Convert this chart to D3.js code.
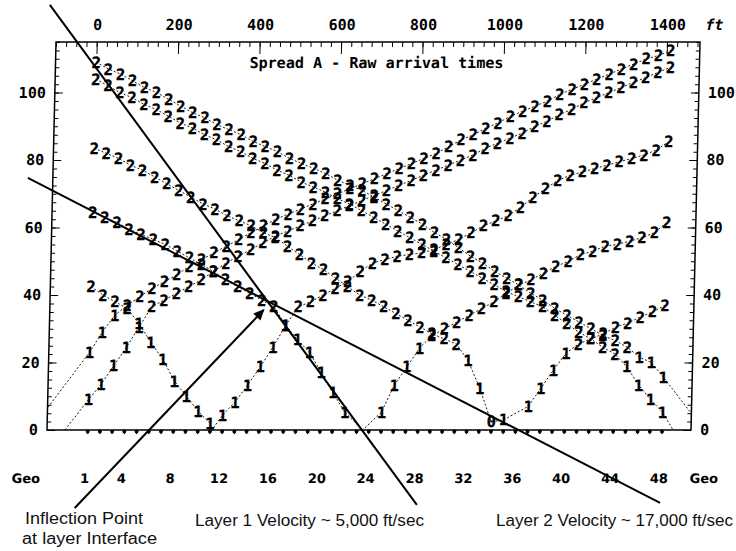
<!DOCTYPE html>
<html>
<head>
<meta charset="utf-8">
<script src="https://cdn.jsdelivr.net/npm/d3@7"></script>
<style>
  body { margin: 0; background: #fff; }
  svg { display: block; }
</style>
</head>
<body>
<div id="chart"></div>
<script>
// Spread A - raw first-arrival picks (ms) at each of 48 geophones, 30 ft apart
const geophones = d3.range(1, 49);
const geoSpacingFt = 30;
const geoLabels = [1, 4, 8, 12, 16, 20, 24, 28, 32, 36, 40, 44, 48];
const ftTicks = [0, 200, 400, 600, 800, 1000, 1200, 1400];
const timeTicks = [0, 20, 40, 60, 80, 100];

// shot points (ft); null = the shot is the "0" pick itself
const shotIds = ["A", "B", "C", "G", "D", "E", "F"];
const shotSourceFt = [-140, -56, 305, 675, null, 1437, 1513];

const picksA = [23, 29, 34, 37, 39.5, 42, 44, 46, 48.5, 50.5, 52.5, 54.5, 56.5, 58.5, 60.5, 62.5,
  64, 65.5, 67, 68.5, 70, 71.5, 73, 74.5, 76, 77.5, 79, 80.5, 82, 84, 86, 87.5,
  89.5, 91, 93, 94.5, 96, 97.5, 99.5, 101, 102.5, 104, 105.5, 107, 108.5, 110, 111, 112.5];
const picksB = [9, 13.5, 19, 24.5, 30.5, 36.5, 38.5, 40.5, 42.5, 44.5, 47, 49.5, 51.5, 53.5, 55.5, 57.5,
  59, 60.5, 62, 63.5, 65, 66.5, 68, 69.5, 71, 72.5, 74, 75.5, 77, 78.5, 80, 81.5,
  83.5, 85, 86.5, 88, 90, 91.5, 93.5, 95, 97, 98.5, 100, 101.5, 103, 104.5, 106, 107.5];
const picksC = [42.5, 40, 38, 36, 31.5, 26, 21, 14.5, 10, 5.5, 2, 4.4, 8.3, 13.3, 18.7, 24.6,
  31, 36.5, 38, 40, 42, 44, 47, 49.5, 50.5, 51.5, 52, 52.5, 53.5, 55, 56.5, 58.5,
  60.5, 62, 63.5, 66, 69, 71.5, 74, 75.5, 76.5, 77.5, 78.5, 79.5, 80.5, 81.5, 83, 85.5];
const picksG = [64.5, 63, 61.5, 59.5, 58, 56.5, 55, 53, 51, 49, 47, 44.5, 42.5, 40.5, 38.5, 36.5,
  31, 26.7, 23, 17, 11, 5.3, null, null, 5.3, 13.3, 18.7, 24.3, 28, 30, 32, 34,
  36, 38, 40.5, 43, 44.5, 46.5, 48.5, 50, 52, 53, 54.5, 55, 56, 57, 58.5, 61.5];
const picksD = [83.5, 82, 80.5, 78.5, 77, 75, 73, 71, 69, 67, 65.5, 63.5, 62, 60.5, 58.5, 57,
  54.5, 52, 49.5, 47.5, 45, 42.5, 40, 38.5, 36.5, 34.5, 32.5, 30.5, 28.5, 27, 25.5, 20.5,
  12.4, 2.4, 3, null, 7, 12.4, 17.8, 22.8, 25.5, 27, 28.5, 30.5, 31.7, 33.5, 35, 37];
const picksE = [104, 102, 100, 98.5, 96.5, 95, 93, 91, 89.5, 87.5, 86, 84, 82.5, 80.5, 79, 77,
  75.5, 73.5, 72, 70.5, 68.5, 67, 65, 63, 61, 59, 57, 55, 53, 51, 49, 47,
  45, 43, 41, 39.5, 38, 36.5, 34, 31.5, 29, 27, 24.5, 22.5, 18.7, 13.3, 9, 5.3];
const picksF = [109, 107, 105.5, 103.5, 101.5, 100, 98, 96, 94, 92.5, 90.5, 89, 87.5, 85.5, 84, 82.5,
  80.5, 79, 77.5, 76, 74, 72.5, 71, 69, 67, 65, 63, 61, 58.5, 56.5, 54, 51.5,
  49.5, 47, 45, 43, 40.5, 38.5, 36, 34, 32, 30, 28, 26.5, 24.5, 21.6, 20, 15.7];

// pick symbol per geophone: 1 = layer 1 (direct), 2 = layer 2 (refracted), 0 = at shot
const layersA = "111222222222" + "222222222222" + "222222222222" + "222222222222";
const layersB = "111112222222" + "222222222222" + "222222222222" + "222222222222";
const layersC = "222211111111" + "111112222222" + "222222222222" + "222222222222";
const layersG = "222222222222" + "2222111111  " + "111122222222" + "222222222222";
const layersD = "222222222222" + "222222222222" + "22222221101 " + "111122222222";
const layersE = "222222222222" + "222222222222" + "222222222222" + "222222221111";
const layersF = "222222222222" + "222222222222" + "222222222222" + "222222222111";

// annotation lines, in (ft, ms)
const layer1Line = [[-93, 126], [808, -22.2]];
const layer2Line = [[-147, 74.7], [1405, -21.6]];
const inflectionArrow = [[-32, -23.1], [432, 35.6]];

const W = 736, H = 551;
const plotLeft = 47, plotRight = 691, plotTop = 42, plotBottom = 430;

const x = d3.scaleLinear().domain([-100, 1481]).range([plotLeft, plotRight]);
const y = d3.scaleLinear().domain([0, 115]).range([plotBottom, plotTop]);

const allPicks = [picksA, picksB, picksC, picksG, picksD, picksE, picksF];
const allLayers = [layersA, layersB, layersC, layersG, layersD, layersE, layersF];

const shots = shotIds.map((id, i) => {
  const pts = geophones
    .map((g, j) => ({ ft: (g - 1) * geoSpacingFt, t: allPicks[i][j], lab: allLayers[i][j] }))
    .filter(d => d.t != null);
  if (shotSourceFt[i] != null) pts.push({ ft: shotSourceFt[i], t: 0, lab: null });
  pts.sort((a, b) => a.ft - b.ft);
  return { id, pts };
});

const svg = d3.select('#chart').append('svg')
  .attr('width', W)
  .attr('height', H)
  .style('background', '#fff');

const defs = svg.append('defs');
defs.append('clipPath').attr('id', 'plotClip')
  .append('rect')
  .attr('x', plotLeft).attr('y', plotTop)
  .attr('width', plotRight - plotLeft).attr('height', plotBottom - plotTop);

defs.append('marker')
  .attr('id', 'arrow')
  .attr('viewBox', '0 0 10 10')
  .attr('refX', 9).attr('refY', 5)
  .attr('markerUnits', 'userSpaceOnUse')
  .attr('markerWidth', 12).attr('markerHeight', 11)
  .attr('orient', 'auto')
  .append('path')
  .attr('d', 'M0,0.5 L10,5 L0,9.5 z')
  .attr('fill', '#000');

// the scanned plot is slightly sheared, so the plot group is skewed about the base line
const plot = svg.append('g')
  .attr('transform', `translate(0,${plotBottom}) skewX(-1.33) translate(0,${-plotBottom})`);

const monoFont = "'DejaVu Sans Mono', monospace";

function styleAxis(g) {
  g.select('.domain').remove();
  g.selectAll('line').attr('stroke', '#000').attr('stroke-width', 1);
  g.selectAll('text')
    .attr('font-family', monoFont)
    .attr('font-weight', 'bold')
    .attr('font-size', 15)
    .attr('fill', '#000');
}

// left axis
plot.append('g').attr('transform', `translate(${plotLeft},0)`)
  .call(d3.axisRight(y).tickValues(d3.range(0, 115.1, 2.5)).tickSize(4).tickFormat(''))
  .call(styleAxis);
plot.append('g').attr('transform', `translate(${plotLeft},0)`)
  .call(d3.axisRight(y).tickValues(timeTicks).tickSize(8).tickFormat(''))
  .call(styleAxis);
plot.append('g').attr('transform', `translate(${plotLeft},0)`)
  .call(d3.axisLeft(y).tickValues(timeTicks).tickSize(0).tickPadding(9))
  .call(styleAxis);

// right axis
plot.append('g').attr('transform', `translate(${plotRight},0)`)
  .call(d3.axisLeft(y).tickValues(d3.range(0, 115.1, 2.5)).tickSize(4).tickFormat(''))
  .call(styleAxis);
plot.append('g').attr('transform', `translate(${plotRight},0)`)
  .call(d3.axisLeft(y).tickValues(timeTicks).tickSize(8).tickFormat(''))
  .call(styleAxis);
plot.append('g').attr('transform', `translate(${plotRight},0)`)
  .call(d3.axisRight(y).tickValues(timeTicks).tickSize(0).tickPadding(9))
  .call(styleAxis);

// top axis in feet
plot.append('g').attr('transform', `translate(0,${plotTop})`)
  .call(d3.axisBottom(x).tickValues(d3.range(-100, 1481, 25)).tickSize(5).tickFormat(''))
  .call(styleAxis);
plot.append('g').attr('transform', `translate(0,${plotTop})`)
  .call(d3.axisBottom(x).tickValues(ftTicks).tickSize(12).tickFormat(''))
  .call(styleAxis);
plot.append('g').attr('transform', `translate(0,${plotTop})`)
  .call(d3.axisTop(x).tickValues(ftTicks).tickSize(0).tickPadding(12).tickFormat(d3.format('d')))
  .call(styleAxis);

plot.append('text')
  .attr('x', 696).attr('y', plotTop - 12)
  .attr('font-family', monoFont).attr('font-weight', 'bold')
  .attr('font-style', 'italic').attr('font-size', 15)
  .text('ft');

// frame
plot.append('rect')
  .attr('x', plotLeft).attr('y', plotTop)
  .attr('width', plotRight - plotLeft).attr('height', plotBottom - plotTop)
  .attr('fill', 'none').attr('stroke', '#000').attr('stroke-width', 1.5);

// geophone markers on the base line
const gx = g => x((g - 1) * geoSpacingFt);
plot.append('g').selectAll('line')
  .data(geophones)
  .join('line')
  .attr('x1', gx).attr('x2', gx)
  .attr('y1', plotBottom).attr('y2', plotBottom + 4)
  .attr('stroke', '#000').attr('stroke-width', 1.2);
plot.append('g').selectAll('circle')
  .data(geophones)
  .join('circle')
  .attr('cx', gx).attr('cy', plotBottom + 1.5)
  .attr('r', 1.9)
  .attr('fill', '#000');

// geophone number row
const labelFont = "'DejaVu Sans', sans-serif";
plot.append('g').selectAll('text')
  .data(geoLabels)
  .join('text')
  .attr('x', g => gx(g) - 2)
  .attr('y', 483)
  .attr('text-anchor', 'middle')
  .attr('font-family', labelFont).attr('font-weight', 'bold').attr('font-size', 13)
  .text(g => g);
plot.append('g').selectAll('text')
  .data([27, 705])
  .join('text')
  .attr('x', d => d)
  .attr('y', 483)
  .attr('text-anchor', 'middle')
  .attr('font-family', labelFont).attr('font-weight', 'bold').attr('font-size', 13)
  .text('Geo');

// title inside the frame
plot.append('text')
  .attr('x', 241).attr('y', 68)
  .attr('font-family', monoFont).attr('font-weight', 'bold').attr('font-size', 15)
  .attr('textLength', 254).attr('lengthAdjust', 'spacingAndGlyphs')
  .text('Spread A - Raw arrival times');

// dotted travel-time lines for each shot
const line = d3.line().x(d => x(d.ft)).y(d => y(d.t));
plot.append('g').attr('clip-path', 'url(#plotClip)')
  .selectAll('path')
  .data(shots)
  .join('path')
  .attr('d', d => line(d.pts))
  .attr('fill', 'none')
  .attr('stroke', '#000')
  .attr('stroke-width', 0.9)
  .attr('stroke-dasharray', '2,2');

// pick symbols
plot.append('g').selectAll('g')
  .data(shots)
  .join('g')
  .selectAll('text')
  .data(d => d.pts.filter(p => p.lab && p.lab !== ' '))
  .join('text')
  .attr('x', d => x(d.ft))
  .attr('y', d => y(d.t))
  .attr('dy', '0.36em')
  .attr('text-anchor', 'middle')
  .attr('font-family', monoFont).attr('font-weight', 'bold').attr('font-size', 15.5)
  .attr('fill', '#000')
  .attr('stroke', '#000').attr('stroke-width', 0.3)
  .text(d => d.lab);

// annotations
const ann = svg.append('g');
const annLine = d3.line().x(d => x(d[0])).y(d => y(d[1]));
ann.selectAll('path.v')
  .data([layer1Line, layer2Line])
  .join('path')
  .attr('class', 'v')
  .attr('d', annLine)
  .attr('fill', 'none').attr('stroke', '#000').attr('stroke-width', 2);
ann.append('path')
  .attr('d', annLine(inflectionArrow))
  .attr('fill', 'none').attr('stroke', '#000').attr('stroke-width', 2)
  .attr('marker-end', 'url(#arrow)');

const annFont = "'Liberation Sans', Arial, sans-serif";
const annTexts = [
  { text: 'Inflection Point', x: 25, y: 524, w: 118 },
  { text: 'at layer Interface', x: 22, y: 544, w: 135 },
  { text: 'Layer 1 Velocity ~ 5,000 ft/sec', x: 195, y: 526, w: 229 },
  { text: 'Layer 2 Velocity ~ 17,000 ft/sec', x: 496, y: 526, w: 237 }
];
ann.selectAll('text')
  .data(annTexts)
  .join('text')
  .attr('x', d => d.x).attr('y', d => d.y)
  .attr('font-family', annFont).attr('font-size', 16).attr('fill', '#111')
  .attr('textLength', d => d.w).attr('lengthAdjust', 'spacingAndGlyphs')
  .text(d => d.text);
</script>
</body>
</html>
